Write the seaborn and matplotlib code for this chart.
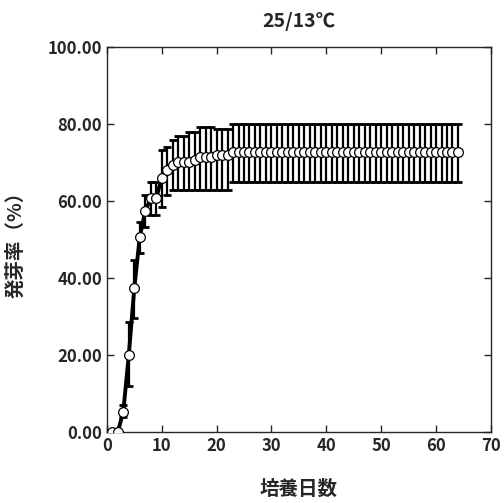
import seaborn as sns
import matplotlib.pyplot as plt
import pandas as pd

# -------------------------------
# Data
# -------------------------------
days = list(range(1, 65))

head_mean = [0, 0, 5.33, 20.0, 37.33, 50.67, 57.33, 60.67, 60.67, 66.0, 68.0,
             69.33, 70.0, 70.0, 70.0, 70.67, 71.33, 71.33, 71.33, 72.0, 72.0, 72.0]
head_low = [0, 0, 4.0, 11.9, 29.5, 46.5, 53.1, 56.4, 56.4, 58.5, 61.6,
            62.9, 62.9, 62.9, 62.9, 62.9, 62.9, 62.9, 62.9, 62.9, 62.9, 62.9]
head_high = [0, 0, 7.0, 28.5, 44.7, 54.6, 61.6, 64.9, 64.9, 73.1, 73.9,
             75.7, 76.9, 76.9, 78.0, 78.0, 79.3, 79.3, 79.3, 78.6, 78.6, 78.6]

# plateau from day 23 to day 64
plateau_mean = [72.67] * 42
plateau_low = [65.0] * 42
plateau_high = [79.9] * 42

mean = head_mean + plateau_mean
low = head_low + plateau_low
high = head_high + plateau_high

df = pd.DataFrame({"day": days, "rate": mean, "low": low, "high": high})

sns.set_style("ticks")
plt.rcParams['font.family'] = ['Noto Sans CJK JP', 'DejaVu Sans']
plt.rcParams['font.weight'] = 'bold'

fig = plt.figure(figsize=(5.04, 5.03), dpi=100)
ax = fig.add_axes([0.212, 0.141, 0.762, 0.766])

# error bars (drawn first, under the line)
ax.errorbar(df["day"], df["rate"],
            yerr=[df["rate"] - df["low"], df["high"] - df["rate"]],
            fmt="none", ecolor="black", elinewidth=1.6, capsize=3.2, capthick=2,
            zorder=1)

# mean curve with open circles
sns.lineplot(x="day", y="rate", data=df, ax=ax, color="black", linewidth=2.8,
             marker="o", markersize=7, markerfacecolor="white",
             markeredgecolor="black", markeredgewidth=0.9, zorder=3)

ax.set_xlim(0, 70)
ax.set_ylim(0, 100)
ax.set_xticks(range(0, 71, 10))
ax.set_yticks(range(0, 101, 20))
ax.set_yticklabels([f"{v:.2f}" for v in range(0, 101, 20)])
ax.tick_params(direction="in", top=True, right=True, length=5, width=1,
               labelsize=12)
for lab in ax.get_xticklabels() + ax.get_yticklabels():
    lab.set_fontweight("bold")
for sp in ax.spines.values():
    sp.set_linewidth(1)

ax.set_title("25/13℃", fontsize=14, fontweight="bold", pad=14)
ax.set_xlabel("培養日数", fontsize=14, fontweight="bold", labelpad=18)
ax.set_ylabel("発芽率（%）", fontsize=14, fontweight="bold", labelpad=16)

plt.savefig("out.png", dpi=100)
